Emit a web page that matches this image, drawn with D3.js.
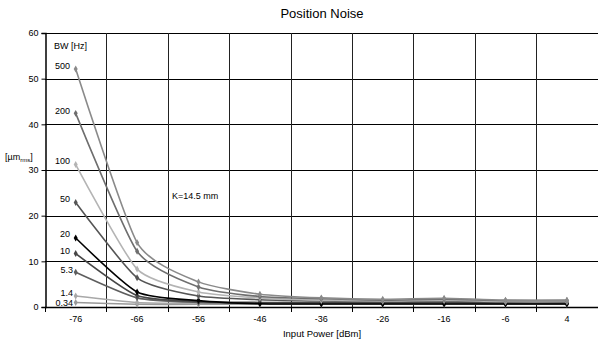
<!DOCTYPE html>
<html>
<head>
<meta charset="utf-8">
<script src="https://cdn.jsdelivr.net/npm/d3@7/dist/d3.min.js"></script>
<style>
  body { margin: 0; background: #fff; }
  svg text { font-family: "Liberation Sans", Arial, sans-serif; fill: #000; }
</style>
</head>
<body>
<div id="chart"></div>
<script>
// categories on the x axis (dBm)
var categories = [-76, -66, -56, -46, -36, -26, -16, -6, 4];
var yTicks = [0, 10, 20, 30, 40, 50, 60];

// bandwidth series, one array each
var bwLabels = ["500", "200", "100", "50", "20", "10", "5.3", "1.4", "0.34"];
var s500 = [52.1, 14.1, 5.5, 2.8, 2.0, 1.7, 1.9, 1.5, 1.5];
var s200 = [42.4, 12.2, 4.4, 2.3, 1.8, 1.5, 1.7, 1.4, 1.4];
var s100 = [31.2, 8.3, 3.3, 2.0, 1.5, 1.3, 1.5, 1.2, 1.2];
var s50 = [22.9, 6.4, 2.4, 1.6, 1.3, 1.2, 1.3, 1.1, 1.1];
var s20 = [15.1, 3.3, 1.4, 0.7, 0.65, 0.65, 0.65, 0.65, 0.65];
var s10 = [11.7, 2.5, 1.2, 1.0, 1.0, 0.9, 1.0, 0.9, 0.9];
var s5_3 = [7.6, 2.0, 1.0, 0.9, 0.9, 0.9, 0.9, 0.8, 0.8];
var s1_4 = [2.4, 1.0, 0.8, 0.8, 0.8, 0.8, 0.8, 0.8, 0.8];
var s0_34 = [1.0, 0.6, 0.6, 0.6, 0.6, 0.6, 0.6, 0.6, 0.6];

var seriesValues = [s500, s200, s100, s50, s20, s10, s5_3, s1_4, s0_34];
var colors = ["#8a8a8a", "#6e6e6e", "#b4b4b4", "#555555", "#000000", "#464646", "#5e5e5e", "#a8a8a8", "#999999"];

var width = 598, height = 343;
var pLeft = 45, pRight = 598, pTop = 33, pBottom = 307;

var svg = d3.select("#chart").append("svg")
  .attr("width", width)
  .attr("height", height);

var x = d3.scaleBand()
  .domain(categories)
  .range([pLeft, pLeft + 9 * 61.4])
  .padding(0);

var y = d3.scaleLinear()
  .domain([0, 60])
  .range([pBottom, pTop]);

var cx = function(i) { return x(categories[i]) + x.bandwidth() / 2; };

// horizontal gridlines
svg.append("g").selectAll("line")
  .data(yTicks.filter(function(d) { return d > 0; }))
  .enter().append("line")
  .attr("x1", pLeft).attr("x2", pRight)
  .attr("y1", function(d) { return Math.round(y(d)) + 0.5; })
  .attr("y2", function(d) { return Math.round(y(d)) + 0.5; })
  .attr("stroke", "#000").attr("stroke-width", 1);

// vertical gridlines at category boundaries
var bounds = categories.slice(1).map(function(c) { return x(c); });
svg.append("g").selectAll("line")
  .data(bounds)
  .enter().append("line")
  .attr("x1", function(d) { return Math.round(d) + 0.5; })
  .attr("x2", function(d) { return Math.round(d) + 0.5; })
  .attr("y1", pTop).attr("y2", pBottom)
  .attr("stroke", "#222").attr("stroke-width", 1);

// x axis (ticks at boundaries)
var xg = svg.append("g").attr("transform", "translate(0," + pBottom + ")");
xg.append("line").attr("x1", pLeft).attr("x2", pRight).attr("y1", 0.5).attr("y2", 0.5)
  .attr("stroke", "#000").attr("stroke-width", 1.5);
xg.selectAll("line.tick")
  .data([pLeft].concat(bounds))
  .enter().append("line").attr("class", "tick")
  .attr("x1", function(d) { return Math.round(d) + 0.5; })
  .attr("x2", function(d) { return Math.round(d) + 0.5; })
  .attr("y1", 0).attr("y2", 5)
  .attr("stroke", "#000");
xg.selectAll("text")
  .data(categories)
  .enter().append("text")
  .attr("x", function(d, i) { return cx(i); })
  .attr("y", 15)
  .attr("text-anchor", "middle")
  .style("font-size", "9px")
  .text(function(d) { return d; });

// y axis
var yAxis = d3.axisLeft(y).tickValues(yTicks).tickSize(4).tickPadding(3);
var yg = svg.append("g").attr("transform", "translate(" + (pLeft + 0.5) + ",0)").call(yAxis);
yg.select(".domain").attr("stroke", "#000").attr("stroke-width", 1.5);
yg.selectAll("text").style("font-size", "9px").style("font-family", "Liberation Sans, Arial, sans-serif");

// series lines
var line = d3.line()
  .x(function(d, i) { return cx(i); })
  .y(function(d) { return y(d); })
  .curve(d3.curveCardinal.tension(0.4));

var gs = svg.append("g");
seriesValues.slice().reverse().forEach(function(vals, ri) {
  var k = seriesValues.length - 1 - ri;
  gs.append("path")
    .datum(vals)
    .attr("d", line)
    .attr("fill", "none")
    .attr("stroke", colors[k])
    .attr("stroke-width", 1.6);
  gs.selectAll("path.m" + k)
    .data(vals)
    .enter().append("path")
    .attr("class", "m" + k)
    .attr("d", d3.symbol().type(d3.symbolDiamond).size(14))
    .attr("transform", function(d, i) { return "translate(" + cx(i) + "," + y(d) + ")"; })
    .attr("fill", colors[k]);
});

// series labels
var labelOffsets = [-3, -3, -4, -4, -4, -3, -2, -3, 0];
svg.append("g").selectAll("text")
  .data(bwLabels)
  .enter().append("text")
  .attr("x", function(d, i) { return i >= 6 ? 73 : 70; })
  .attr("y", function(d, i) { return y(seriesValues[i][0]) + labelOffsets[i]; })
  .attr("text-anchor", "end")
  .attr("dy", "0.35em")
  .style("font-size", "9px")
  .text(function(d) { return d; });

svg.append("text").attr("x", 54).attr("y", 46).attr("dy", "0.35em")
  .style("font-size", "9px").text("BW [Hz]");

svg.append("text").attr("x", 172).attr("y", 196).attr("dy", "0.35em")
  .style("font-size", "9px").text("K=14.5 mm");

// y label with subscript
var yl = svg.append("text").attr("x", 5).attr("y", 157).attr("dy", "0.35em").style("font-size", "9px");
yl.append("tspan").text("[\u00b5m");
yl.append("tspan").attr("dy", 2).style("font-size", "6px").text("rms");
yl.append("tspan").attr("dy", -2).text("]");

// titles
svg.append("text").attr("x", 322).attr("y", 13).attr("dy", "0.35em")
  .attr("text-anchor", "middle").style("font-size", "13px").text("Position Noise");

svg.append("text").attr("x", 322).attr("y", 334).attr("dy", "0.35em")
  .attr("text-anchor", "middle").style("font-size", "9.5px").text("Input Power [dBm]");
</script>
</body>
</html>
